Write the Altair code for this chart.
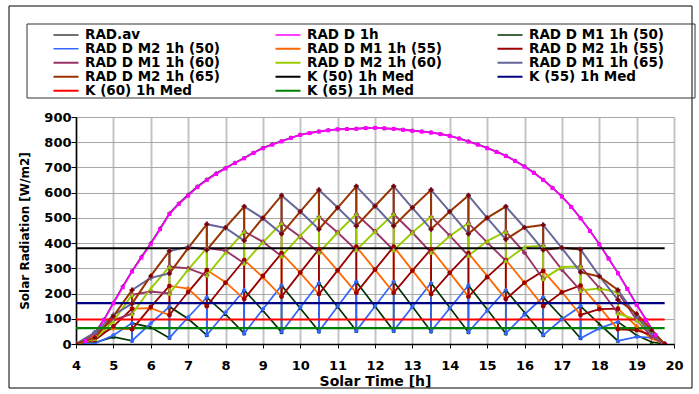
import altair as alt
import pandas as pd

# ---------------- data ----------------
series = ["RAD.av", "RAD D 1h", "RAD D M1 1h (50)", "RAD D M2 1h (50)",
          "RAD D M1 1h (55)", "RAD D M2 1h (55)", "RAD D M1 1h (60)",
          "RAD D M2 1h (60)", "RAD D M1 1h (65)", "RAD D M2 1h (65)",
          "K (50) 1h Med", "K (55) 1h Med", "K (60) 1h Med", "K (65) 1h Med"]
line_colors = ["#404040", "#FF00FF", "#003300", "#3366FF", "#FF6600", "#990000",
               "#993366", "#99CC00", "#666699", "#993300",
               "#000000", "#000080", "#FF0000", "#008000"]
line_widths = [1.6, 2.2, 1.8, 1.8, 1.8, 1.8, 1.8, 1.8, 1.8, 1.8, 2.6, 2.6, 2.6, 2.6]

# smooth daily curves
curve_t = [4.0, 4.25, 4.5, 4.75, 5.0, 5.25, 5.5, 5.75, 6.0, 6.25, 6.5, 6.75, 7.0, 7.25,
           7.5, 7.75, 8.0, 8.25, 8.5, 8.75, 9.0, 9.25, 9.5, 9.75, 10.0, 10.25, 10.5,
           10.75, 11.0, 11.25, 11.5, 11.75, 12.0, 12.25, 12.5, 12.75, 13.0, 13.25,
           13.5, 13.75, 14.0, 14.25, 14.5, 14.75, 15.0, 15.25, 15.5, 15.75, 16.0,
           16.25, 16.5, 16.75, 17.0, 17.25, 17.5, 17.75, 18.0, 18.25, 18.5, 18.75,
           19.0, 19.25, 19.5, 19.75]
rad_d_1h = [0, 12, 40, 95, 161, 225, 287, 342, 396, 455, 515, 555, 588, 622,
            650, 674, 696, 717, 736, 757, 776, 790, 803, 817, 829, 836, 842,
            847, 851, 852, 853, 856, 857, 855, 853, 849, 845, 842,
            838, 832, 825, 814, 802, 790, 776, 761, 745, 725, 703,
            678, 650, 618, 584, 543, 498, 448, 395, 338, 280, 218,
            155, 95, 36, 0]
rad_av = [0, 14, 43, 98, 164, 228, 290, 346, 400, 458, 518, 558, 592, 625,
          653, 677, 698, 719, 738, 759, 778, 792, 805, 818, 830, 837, 843,
          848, 851, 853, 854, 856, 857, 855, 853, 850, 846, 843,
          839, 833, 826, 816, 804, 792, 778, 763, 747, 727, 705,
          680, 652, 620, 586, 545, 500, 450, 397, 340, 282, 220,
          157, 97, 38, 0]

# sawtooth series: switch points at the half hours, mid points on the hours
half_hours = [5.5, 6.5, 7.5, 8.5, 9.5, 10.5, 11.5, 12.5, 13.5, 14.5, 15.5, 16.5, 17.5, 18.5]
mid_hours = [6.0, 7.0, 8.0, 9.0, 10.0, 11.0, 12.0, 13.0, 14.0, 15.0, 16.0, 17.0, 18.0]
start_t = [4.0, 4.5, 5.0]
end_t = [19.0, 19.4, 19.75]

hi_50 = [83, 148, 185, 213, 232, 242, 247, 247, 242, 232, 214, 186, 150, 88]
lo_50 = [13, 24, 35, 42, 47, 50, 52, 52, 50, 47, 42, 35, 23, 12]
m2mid_50 = [82, 106, 125, 138, 145, 149, 150, 148, 142, 132, 117, 98, 62]
m1mid_50 = [66, 100, 118, 133, 142, 148, 150, 149, 145, 138, 125, 106, 80]
m2start_50 = [0, 2, 35]
m2end_50 = [28, 25, 0]
m1start_50 = [0, 5, 28]
m1end_50 = [35, 8, 0]

hi_55 = [140, 230, 293, 333, 360, 376, 386, 386, 376, 360, 333, 290, 232, 140]
lo_55 = [58, 115, 150, 178, 188, 198, 203, 203, 198, 188, 178, 150, 115, 58]
m2mid_55 = [147, 206, 243, 270, 283, 292, 295, 291, 282, 265, 243, 205, 138]
m1mid_55 = [142, 220, 245, 265, 282, 291, 295, 292, 283, 270, 243, 206, 147]
m2start_55 = [0, 15, 70]
m2end_55 = [55, 35, 0]
m1start_55 = [0, 35, 62]
m1end_55 = [70, 22, 0]

hi_60 = [195, 307, 380, 446, 479, 505, 515, 515, 505, 479, 446, 390, 307, 205]
lo_60 = [120, 200, 272, 320, 348, 362, 372, 372, 362, 350, 330, 258, 212, 122]
m2mid_60 = [220, 295, 362, 403, 430, 442, 446, 442, 428, 408, 385, 305, 220]
m1mid_60 = [208, 300, 370, 405, 425, 442, 446, 442, 430, 403, 362, 295, 222]
m2start_60 = [0, 20, 90]
m2end_60 = [95, 45, 0]
m1start_60 = [0, 40, 95]
m1end_60 = [95, 30, 0]

hi_65 = [214, 369, 475, 545, 589, 611, 625, 625, 611, 589, 545, 472, 375, 214]
lo_65 = [160, 280, 373, 410, 437, 455, 468, 468, 455, 437, 415, 373, 285, 175]
m2mid_65 = [270, 380, 462, 500, 525, 540, 547, 541, 525, 500, 462, 382, 268]
m1mid_65 = [262, 385, 460, 498, 525, 541, 547, 540, 525, 500, 462, 380, 270]
m2start_65 = [0, 25, 110]
m2end_65 = [120, 55, 0]
m1start_65 = [0, 45, 115]
m1end_65 = [110, 40, 0]

k_t = [4.0, 19.75]
k_values = [380, 162, 97, 63]

x_ticks = [4, 5, 6, 7, 8, 9, 10, 11, 12, 13, 14, 15, 16, 17, 18, 19, 20]
y_ticks = [0, 100, 200, 300, 400, 500, 600, 700, 800, 900]

# ---------------- assemble long table ----------------
rows = []


def add(name, ts, vs):
    for i, (t, v) in enumerate(zip(ts, vs)):
        rows.append({"series": name, "t": t, "v": v, "idx": i})


def saw(hi, lo, mids, st, en, rising):
    ts, vs = list(start_t), list(st)
    for i, h in enumerate(half_hours):
        ts += [h, h]
        vs += [hi[i], lo[i]] if rising else [lo[i], hi[i]]
        if i < len(mid_hours):
            ts.append(mid_hours[i])
            vs.append(mids[i])
    ts += end_t
    vs += en
    return ts, vs


add("RAD.av", curve_t, rad_av)
add("RAD D 1h", curve_t, rad_d_1h)
add("RAD D M1 1h (50)", *saw(hi_50, lo_50, m1mid_50, m1start_50, m1end_50, False))
add("RAD D M2 1h (50)", *saw(hi_50, lo_50, m2mid_50, m2start_50, m2end_50, True))
add("RAD D M1 1h (55)", *saw(hi_55, lo_55, m1mid_55, m1start_55, m1end_55, False))
add("RAD D M2 1h (55)", *saw(hi_55, lo_55, m2mid_55, m2start_55, m2end_55, True))
add("RAD D M1 1h (60)", *saw(hi_60, lo_60, m1mid_60, m1start_60, m1end_60, False))
add("RAD D M2 1h (60)", *saw(hi_60, lo_60, m2mid_60, m2start_60, m2end_60, True))
add("RAD D M1 1h (65)", *saw(hi_65, lo_65, m1mid_65, m1start_65, m1end_65, False))
add("RAD D M2 1h (65)", *saw(hi_65, lo_65, m2mid_65, m2start_65, m2end_65, True))
for name, kv in zip(series[10:], k_values):
    add(name, k_t, [kv, kv])

df = pd.DataFrame(rows)
pts = df[~df["series"].str.startswith("K")]

marker_series = series[:10]
marker_fill = ["#333333", "#FF00FF", "#003300", "#3366FF", "#FF6600", "#990000",
               "#993366", "#99CC00", "#666699", "#800000"]
marker_shape = ["cross", "square", "triangle-up", "cross", "cross", "circle",
                "cross", "triangle-up", "cross", "diamond"]
marker_angle = [0, 0, 0, 45, 45, 0, 0, 0, 0, 0]
marker_size = [14, 28, 10, 28, 28, 26, 26, 26, 26, 30]

FONT = "DejaVu Sans"

xscale = alt.Scale(domain=[4, 20], nice=False)
yscale = alt.Scale(domain=[0, 900], nice=False)

x_axis = alt.Axis(values=x_ticks, title="Solar Time [h]", format="d",
                  grid=True, gridColor="#c4c4c4", gridWidth=2, labelOverlap=False,
                  domainColor="black", domainWidth=1.5, tickColor="black",
                  tickSize=4, labelPadding=11, labelFont=FONT, labelFontSize=13,
                  labelFontWeight="bold", labelColor="black", labelFlush=False,
                  titleFont=FONT, titleFontSize=14, titleFontWeight="bold",
                  titleColor="black", titlePadding=2)
y_axis = alt.Axis(values=y_ticks, title="Solar Radiation [W/m2]",
                  grid=True, gridColor="#a8a8a8", gridWidth=1.2, labelOverlap=False,
                  domainColor="black", domainWidth=1.5, tickColor="black",
                  tickSize=5, labelPadding=0, labelFont=FONT, labelFontSize=13,
                  labelFontWeight="bold", labelColor="black", labelFlush=False,
                  titleFont=FONT, titleFontSize=12, titleFontWeight="bold",
                  titleColor="black", titlePadding=12)

legend = alt.Legend(orient="none", legendX=-24, legendY=-89, columns=3,
                    direction="horizontal",
                    title=None, symbolType="stroke", symbolSize=625,
                    symbolStrokeWidth=2, clipHeight=13.5, labelFont=FONT,
                    labelFontSize=13.5, labelFontWeight="bold", labelColor="black",
                    labelLimit=400, labelOffset=5, columnPadding=53, rowPadding=-1.3,
                    gridAlign="all", padding=0)

lines = alt.Chart(df).mark_line(clip=True).encode(
    x=alt.X("t:Q", scale=xscale, axis=x_axis),
    y=alt.Y("v:Q", scale=yscale, axis=y_axis),
    color=alt.Color("series:N", scale=alt.Scale(domain=series, range=line_colors),
                    legend=legend),
    strokeWidth=alt.StrokeWidth("series:N",
                                scale=alt.Scale(domain=series, range=line_widths),
                                legend=None),
    order=alt.Order("idx:Q"),
)

points = alt.Chart(pts).mark_point(filled=True, opacity=1, clip=True).encode(
    x=alt.X("t:Q", scale=xscale, axis=x_axis),
    y=alt.Y("v:Q", scale=yscale, axis=y_axis),
    fill=alt.Fill("series:N", scale=alt.Scale(domain=marker_series, range=marker_fill),
                  legend=None),
    shape=alt.Shape("series:N", scale=alt.Scale(domain=marker_series, range=marker_shape),
                    legend=None),
    angle=alt.Angle("series:N", scale=alt.Scale(domain=marker_series, range=marker_angle),
                    legend=None),
    size=alt.Size("series:N", scale=alt.Scale(domain=marker_series, range=marker_size),
                  legend=None),
)

one = alt.Data(values=[{"a": 1}])
outer_frame = alt.Chart(one).mark_rect(fillOpacity=0, stroke="black", strokeWidth=1).encode(
    x=alt.value(-67), x2=alt.value(616), y=alt.value(-111), y2=alt.value(271))
legend_box = alt.Chart(one).mark_rect(fillOpacity=0, stroke="#333333", strokeWidth=1).encode(
    x=alt.value(-49), x2=alt.value(619), y=alt.value(-93), y2=alt.value(-19))

chart = alt.layer(lines, points, outer_frame, legend_box).properties(
    width=598, height=227,
    padding={"left": 76, "top": 117, "right": 25, "bottom": 50},
    autosize=alt.AutoSizeParams(type="none"),
    background="white",
).configure_view(strokeWidth=0)

chart.save("out.html", embed_options={"renderer": "svg", "actions": False})
